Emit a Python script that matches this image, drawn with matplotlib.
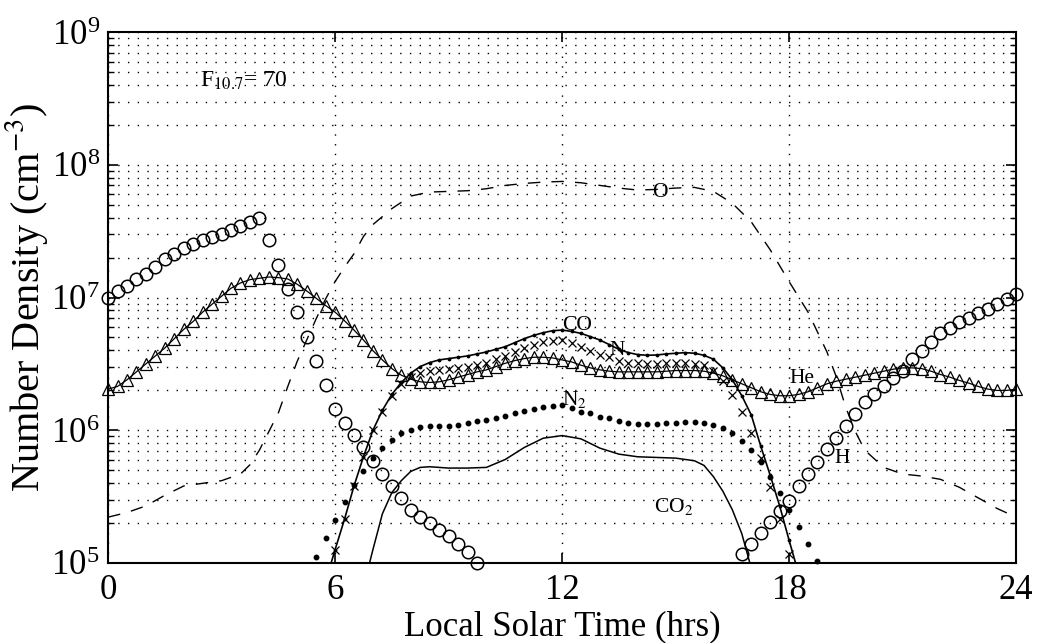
import numpy as np
import matplotlib
matplotlib.use("Agg")
import matplotlib.pyplot as plt
from matplotlib.ticker import LogLocator, NullFormatter

plt.rcParams['font.family'] = ['Liberation Serif', 'DejaVu Serif']
plt.rcParams['mathtext.fontset'] = 'stix'

# log10 number density (cm^-3) vs local solar time, F10.7 = 70

# H (circles), only the part above 1e5
h_time = np.concatenate([np.arange(0.0, 9.76, 0.25), np.arange(16.75, 24.01, 0.25)])
h_logn = [7.00, 7.05, 7.09, 7.14, 7.18, 7.23, 7.29, 7.33, 7.37, 7.40,
          7.43, 7.455, 7.48, 7.51, 7.54, 7.57, 7.60, 7.43, 7.245, 7.065,
          6.89, 6.70, 6.52, 6.34, 6.16, 6.055, 5.964, 5.87, 5.77, 5.67,
          5.58, 5.49, 5.40, 5.35, 5.30, 5.25, 5.20, 5.14, 5.08, 5.00,
          # afternoon / evening
          5.07, 5.14, 5.225, 5.31, 5.39, 5.47, 5.58, 5.67, 5.76, 5.86,
          5.94, 6.03, 6.12, 6.21, 6.27, 6.33, 6.39, 6.45, 6.54, 6.60,
          6.665, 6.73, 6.77, 6.815, 6.845, 6.88, 6.91, 6.95, 6.99, 7.03]

# He (triangles)
he_time = np.arange(0.0, 24.01, 0.25)
he_logn = [6.31, 6.33, 6.38, 6.44, 6.50, 6.56, 6.62, 6.69,
           6.76, 6.82, 6.89, 6.95, 7.01, 7.07, 7.11, 7.135,
           7.145, 7.155, 7.15, 7.14, 7.10, 7.05, 6.995, 6.94,
           6.89, 6.825, 6.755, 6.68, 6.60, 6.53, 6.465, 6.415,
           6.385, 6.365, 6.36, 6.365, 6.38, 6.40, 6.42, 6.44,
           6.455, 6.48, 6.505, 6.525, 6.54, 6.55, 6.55, 6.545,
           6.53, 6.515, 6.49, 6.47, 6.455, 6.445, 6.44, 6.44,
           6.44, 6.44, 6.44, 6.445, 6.45, 6.45, 6.45, 6.445,
           6.43, 6.41, 6.38, 6.35, 6.32, 6.29, 6.27, 6.26,
           6.26, 6.27, 6.29, 6.32, 6.35, 6.37, 6.385, 6.40,
           6.415, 6.43, 6.445, 6.46, 6.47, 6.47, 6.465, 6.445,
           6.42, 6.40, 6.375, 6.355, 6.33, 6.31, 6.30, 6.30,
           6.31]

# N (crosses)
n_time = np.arange(6.0, 18.01, 0.25)
n_logn = [5.10, 5.33, 5.58, 5.80, 6.00, 6.14, 6.26, 6.35,
          6.40, 6.43, 6.45, 6.455, 6.46, 6.47, 6.48, 6.495,
          6.51, 6.535, 6.56, 6.59, 6.62, 6.645, 6.665, 6.675,
          6.68, 6.66, 6.63, 6.60, 6.57, 6.55, 6.525, 6.51,
          6.505, 6.50, 6.50, 6.505, 6.505, 6.505, 6.50, 6.49,
          6.45, 6.37, 6.266, 6.14, 5.98, 5.79, 5.57, 5.33,
          5.07]

# CO (line with small dots)
co_time = np.arange(5.75, 18.26, 0.25)
co_logn = [4.86,
           5.10, 5.33, 5.58, 5.80, 6.00, 6.15, 6.27, 6.36,
           6.43, 6.48, 6.51, 6.53, 6.54, 6.55, 6.56, 6.575,
           6.59, 6.61, 6.63, 6.66, 6.69, 6.715, 6.735, 6.75,
           6.755, 6.745, 6.73, 6.705, 6.68, 6.645, 6.61, 6.585,
           6.57, 6.565, 6.567, 6.575, 6.58, 6.585, 6.58, 6.565,
           6.535, 6.47, 6.38, 6.26, 6.115, 5.88, 5.66, 5.43,
           5.17, 4.92]

# N2 (big dots)
n2_time = np.arange(5.5, 18.76, 0.25)
n2_logn = [5.045, 5.19,
           5.32, 5.46, 5.59, 5.69, 5.79, 5.866, 5.93, 5.98,
           6.00, 6.025, 6.03, 6.03, 6.035, 6.04, 6.055, 6.07,
           6.077, 6.09, 6.107, 6.13, 6.145, 6.16, 6.175, 6.18,
           6.19, 6.17, 6.14, 6.13, 6.10, 6.09, 6.07, 6.055,
           6.047, 6.047, 6.047, 6.055, 6.055, 6.06, 6.06, 6.055,
           6.04, 6.017, 5.98, 5.92, 5.85, 5.76, 5.65, 5.53,
           5.40, 5.27, 5.14, 5.015]

# CO2 (solid line)
co2_time = [6.75, 7.0, 7.25, 7.5, 7.75, 8.0, 8.25, 8.5, 9.0, 9.5, 10.0, 10.5,
            11.0, 11.5, 12.0, 12.5, 13.0, 13.5, 14.0, 14.5, 15.0, 15.5,
            15.75, 16.0, 16.25, 16.5, 16.75, 17.0]
co2_logn = [4.82, 5.10, 5.37, 5.53, 5.62, 5.69, 5.72, 5.725, 5.715, 5.715,
            5.72, 5.78, 5.87, 5.94, 5.96, 5.935, 5.865, 5.82, 5.80, 5.795,
            5.79, 5.77, 5.735, 5.65, 5.54, 5.40, 5.22, 4.96]

# O (dashed line)
o_time = [0.0, 0.5, 1.0, 1.5, 2.0, 2.5, 3.0, 3.5, 3.75, 4.0, 4.25, 4.5, 4.75,
          5.0, 5.25, 5.5, 5.75, 6.0, 6.25, 6.5, 6.75, 7.0, 7.5, 8.0, 8.5,
          9.0, 9.5, 10.0, 10.5, 11.0, 11.5, 12.0, 12.5, 13.0, 13.5, 14.0,
          14.5, 15.0, 15.5, 16.0, 16.5, 17.0, 17.5, 18.0, 18.5, 19.0, 19.25,
          19.5, 19.75, 20.0, 20.5, 21.0, 21.5, 22.0, 22.5, 23.0, 23.5, 24.0]
o_logn = [5.345, 5.38, 5.43, 5.51, 5.58, 5.60, 5.62, 5.67, 5.74, 5.85, 5.99,
          6.13, 6.33, 6.52, 6.68, 6.84, 6.99, 7.12, 7.23, 7.33, 7.46, 7.55,
          7.67, 7.765, 7.795, 7.80, 7.805, 7.82, 7.845, 7.86, 7.87, 7.875,
          7.865, 7.845, 7.825, 7.81, 7.815, 7.825, 7.83, 7.80, 7.71, 7.57,
          7.36, 7.12, 6.89, 6.59, 6.40, 6.17, 5.99, 5.85, 5.72, 5.67, 5.655,
          5.63, 5.57, 5.49, 5.41, 5.345]

fig = plt.figure(figsize=(10.39, 6.43), dpi=100)
ax = fig.add_axes([0.104, 0.1245, 0.874, 0.8255])

def dens(v):
    return 10.0 ** np.asarray(v)

ax.plot(o_time, dens(o_logn), color='k', lw=1.0, dashes=(9, 8))
ax.plot(co2_time, dens(co2_logn), color='k', lw=1.1)
ax.plot(co_time, dens(co_logn), color='k', lw=1.2, marker='.', ms=3.5)
ax.plot(n2_time, dens(n2_logn), ls='none', marker='o', ms=3.2, color='k',
        clip_on=False)
ax.plot(n_time, dens(n_logn), ls='none', marker='x', ms=6, mew=0.9,
        color='k', clip_on=False)
ax.plot(he_time, dens(he_logn), color='k', lw=0.9, marker='^', ms=8.5,
        mfc='none', mew=0.9, clip_on=False)
ax.plot(h_time, dens(h_logn), ls='none', marker='o', ms=9, mfc='none',
        mec='k', mew=1.1, clip_on=False)

ax.set_yscale('log')
ax.set_xlim(0, 24)
ax.set_ylim(1e5, 1e9)
ax.set_xticks([0, 6, 12, 18, 24])
ax.yaxis.set_major_locator(LogLocator(base=10, numticks=10))
ax.yaxis.set_minor_locator(LogLocator(base=10, subs=np.arange(2, 10), numticks=20))
ax.yaxis.set_minor_formatter(NullFormatter())

grid_style = dict(color='k', lw=1.0, linestyle=(0, (1, 6)))
ax.grid(True, which='major', axis='x', **grid_style)
ax.grid(True, which='both', axis='y', **grid_style)
ax.set_axisbelow(True)

ax.tick_params(which='both', direction='in', top=True, right=True, labelsize=25)
ax.tick_params(which='major', length=7, width=1.2, pad=6)
ax.tick_params(which='minor', length=4, width=1.0)
ax.tick_params(axis='x', pad=8)
for sp in ax.spines.values():
    sp.set_linewidth(1.5)

ax.set_xlabel('Local Solar Time (hrs)', fontsize=25, labelpad=2)
ax.set_ylabel('Number Density (cm$^{-3}$)', fontsize=29, labelpad=1)

# species labels
lab = dict(fontsize=15.5, ha='left', va='baseline')
ax.text(2.43, 10 ** 8.586, 'F$_{10.7}$= 70', fontsize=17, ha='left', va='baseline')
ax.text(14.39, 10 ** 7.757, 'O', **lab)
ax.text(12.01, 10 ** 6.757, 'CO', **lab)
ax.text(13.25, 10 ** 6.567, 'N', **lab)
ax.text(18.0, 10 ** 6.356, 'He', **lab)
ax.text(12.0, 10 ** 6.19, 'N$_2$', **lab)
ax.text(19.2, 10 ** 5.753, 'H', **lab)
ax.text(14.42, 10 ** 5.384, 'CO$_2$', **lab)

fig.savefig('out.png', dpi=100)
